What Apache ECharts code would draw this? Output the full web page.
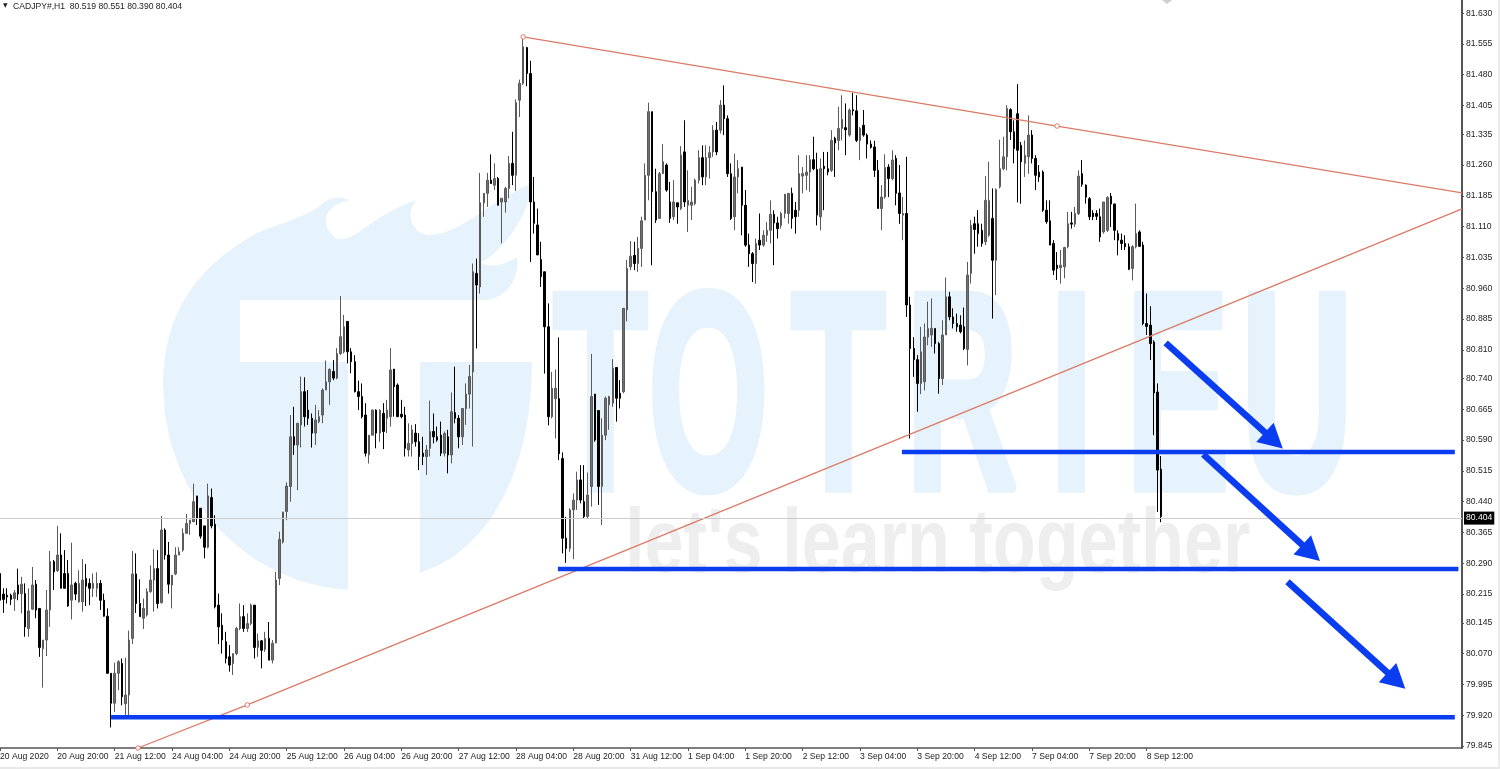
<!DOCTYPE html>
<html><head><meta charset="utf-8">
<script src="https://cdn.jsdelivr.net/npm/echarts@6/dist/echarts.min.js"></script>
<style>html,body{margin:0;padding:0;background:#fff}#c{width:1500px;height:769px}</style>
</head><body><div id="c"></div>
<script>
// Each bar: open, close, low, high
const barsAug20 = [
[80.265,80.200,80.180,80.322],[80.215,80.202,80.169,80.229],[80.212,80.208,80.192,80.229],[80.212,80.202,80.188,80.216],[80.204,80.218,80.174,80.225],[80.237,80.215,80.200,80.277],[80.216,80.239,80.168,80.257],[80.216,80.135,80.111,80.241],[80.131,80.174,80.111,80.229],[80.178,80.237,80.176,80.281],
[80.239,80.176,80.156,80.249],[80.180,80.085,80.062,80.180],[80.082,80.103,79.987,80.103],[80.103,80.176,80.064,80.225],[80.176,80.294,80.135,80.320],[80.294,80.269,80.225,80.298],[80.272,80.310,80.269,80.381],[80.310,80.229,80.229,80.363],[80.265,80.229,80.229,80.322],[80.265,80.186,80.184,80.298],
[80.200,80.237,80.153,80.340],[80.241,80.215,80.200,80.245],[80.196,80.241,80.194,80.273],[80.196,80.249,80.172,80.300],[80.253,80.234,80.186,80.288],[80.241,80.229,80.188,80.253],[80.229,80.241,80.208,80.265],[80.229,80.241,80.208,80.268],[80.241,80.200,80.176,80.249],[80.200,80.161,80.160,80.216]];
const barsAug21 = [
[80.161,80.022,80.022,80.180],[80.022,79.949,79.890,80.022],[79.949,80.022,79.928,80.048],[80.022,80.050,79.981,80.054],[80.046,79.965,79.944,80.058],[79.948,79.969,79.920,80.060],[79.969,80.103,79.920,80.126],[80.107,80.264,80.093,80.320],[80.264,80.192,80.169,80.314],[80.192,80.160,80.160,80.251],
[80.156,80.180,80.130,80.204],[80.164,80.221,80.160,80.229],[80.221,80.249,80.218,80.285],[80.249,80.277,80.172,80.324],[80.277,80.192,80.180,80.322],[80.194,80.371,80.192,80.405],[80.371,80.310,80.299,80.375],[80.310,80.239,80.216,80.342],[80.237,80.261,80.180,80.261],[80.264,80.310,80.261,80.329],
[80.310,80.318,80.310,80.329],[80.322,80.363,80.318,80.375],[80.363,80.387,80.363,80.410],[80.387,80.395,80.359,80.395],[80.391,80.440,80.391,80.484],[80.454,80.399,80.383,80.454],[80.424,80.356,80.350,80.424],[80.381,80.329,80.302,80.381],[80.329,80.454,80.326,80.484],[80.450,80.381,80.375,80.472]];
const barsAug24 = [
[80.385,80.184,80.180,80.407],[80.188,80.135,80.093,80.216],[80.139,80.103,80.070,80.168],[80.099,80.058,80.046,80.123],[80.062,80.042,80.026,80.091],[80.046,80.070,80.018,80.070],[80.070,80.131,80.066,80.135],[80.131,80.160,80.127,80.192],[80.160,80.131,80.123,80.188],[80.131,80.143,80.123,80.168],
[80.143,80.188,80.139,80.192],[80.188,80.085,80.058,80.188],[80.085,80.101,80.062,80.119],[80.101,80.078,80.034,80.103],[80.080,80.107,80.074,80.123],[80.107,80.054,80.054,80.147],[80.054,80.095,80.046,80.103],[80.096,80.249,80.095,80.269],[80.253,80.348,80.237,80.367],[80.342,80.415,80.338,80.415],
[80.416,80.478,80.395,80.487],[80.477,80.598,80.440,80.651],[80.598,80.578,80.554,80.671],[80.578,80.631,80.468,80.631],[80.627,80.708,80.572,80.745],[80.708,80.647,80.623,80.743],[80.663,80.643,80.627,80.712],[80.643,80.607,80.572,80.655],[80.607,80.639,80.578,80.676],[80.635,80.647,80.631,80.663]];
const barsAug25 = [
[80.651,80.712,80.631,80.716],[80.712,80.732,80.712,80.784],[80.732,80.762,80.676,80.765],[80.757,80.741,80.736,80.785],[80.741,80.801,80.738,80.814],[80.801,80.842,80.797,80.941],[80.805,80.866,80.801,80.895],[80.879,80.805,80.777,80.879],[80.805,80.781,80.753,80.814],[80.781,80.708,80.706,80.797],
[80.708,80.696,80.663,80.735],[80.696,80.647,80.643,80.728],[80.651,80.558,80.550,80.680],[80.554,80.602,80.533,80.602],[80.602,80.663,80.602,80.665],[80.663,80.607,80.570,80.665],[80.607,80.663,80.586,80.665],[80.655,80.611,80.568,80.680],[80.643,80.663,80.607,80.688],[80.647,80.761,80.623,80.814],
[80.763,80.720,80.647,80.763],[80.724,80.647,80.647,80.728],[80.653,80.647,80.643,80.688],[80.651,80.570,80.550,80.671],[80.566,80.582,80.550,80.631],[80.582,80.615,80.550,80.627],[80.607,80.586,80.574,80.629],[80.586,80.550,80.517,80.607],[80.558,80.550,80.529,80.598],[80.550,80.566,80.505,80.578],
[80.570,80.611,80.550,80.686],[80.611,80.598,80.582,80.655],[80.598,80.590,80.586,80.623],[80.602,80.558,80.551,80.635],[80.558,80.606,80.550,80.611],[80.598,80.554,80.509,80.615],[80.554,80.659,80.533,80.706],[80.657,80.643,80.631,80.769],[80.643,80.598,80.570,80.651],[80.598,80.667,80.578,80.667],
[80.667,80.702,80.627,80.728],[80.702,80.745,80.667,80.773]];
const barsAug27 = [
[80.756,81.000,80.574,81.020],[80.996,80.968,80.813,81.032],[80.963,81.168,80.947,81.241],[81.168,81.191,81.134,81.191],[81.191,81.223,81.158,81.241],[81.223,81.215,81.215,81.286],[81.211,81.227,81.199,81.264],[81.227,81.162,81.162,81.231],[81.170,81.179,81.069,81.179],[81.170,81.203,81.144,81.207],
[81.203,81.264,81.179,81.282],[81.264,81.235,81.211,81.341],[81.235,81.412,81.197,81.420],[81.418,81.459,81.377,81.468],[81.459,81.548,81.455,81.568],[81.546,81.483,81.452,81.548],[81.483,81.170,81.024,81.514],[81.170,81.118,81.093,81.231],[81.114,81.041,81.041,81.154],[81.030,80.988,80.963,81.073],
[81.000,80.866,80.752,81.000],[80.866,80.647,80.626,80.923],[80.647,80.716,80.643,80.756],[80.691,80.716,80.594,80.762],[80.691,80.557,80.541,80.840],[80.545,80.351,80.314,80.560],[80.351,80.326,80.291,80.403],[80.326,80.420,80.318,80.424],[80.420,80.444,80.300,80.460],[80.444,80.493,80.420,80.513],
[80.493,80.444,80.436,80.529],[80.440,80.404,80.399,80.529],[80.404,80.456,80.399,80.511],[80.477,80.696,80.428,80.800],[80.702,80.590,80.586,80.702],[80.662,80.477,80.432,80.662],[80.477,80.602,80.383,80.643],[80.602,80.692,80.590,80.696],[80.676,80.696,80.615,80.698],[80.680,80.765,80.671,80.787],
[80.767,80.692,80.635,80.767],[80.704,80.692,80.667,80.736],[80.708,80.911,80.704,80.911],[80.907,81.008,80.879,81.029]];
const barsAug31 = [
[81.012,81.038,81.004,81.075],[81.040,81.020,81.004,81.073],[81.020,81.057,81.000,81.085],[81.057,81.124,81.012,81.134],[81.126,81.235,81.126,81.264],[81.235,81.390,81.174,81.412],[81.390,81.195,81.016,81.390],[81.195,81.126,81.119,81.251],[81.130,81.239,81.130,81.243],[81.239,81.268,81.239,81.311],
[81.260,81.199,81.195,81.264],[81.170,81.130,81.119,81.219],[81.134,81.170,81.126,81.223],[81.168,81.158,81.117,81.168],[81.154,81.284,81.150,81.306],[81.292,81.170,81.158,81.369],[81.162,81.174,81.097,81.247],[81.162,81.170,81.126,81.207],[81.166,81.223,81.162,81.227],[81.223,81.278,81.215,81.296],
[81.278,81.231,81.211,81.308],[81.231,81.278,81.211,81.308],[81.278,81.290,81.227,81.306],[81.292,81.345,81.280,81.357],[81.345,81.292,81.284,81.365],[81.345,81.406,81.337,81.418],[81.406,81.373,81.333,81.454],[81.373,81.239,81.231,81.381],[81.239,81.130,81.126,81.264],[81.134,81.231,81.101,81.288]];
const barsSep1 = [
[81.231,81.251,81.191,81.272],[81.255,81.162,81.089,81.255],[81.162,81.065,81.061,81.199],[81.065,81.044,81.012,81.093],[81.044,81.020,80.975,81.048],[81.020,81.069,80.971,81.081],[81.077,81.065,81.053,81.142],[81.065,81.089,81.061,81.101],[81.089,81.101,81.073,81.121],[81.101,81.140,81.069,81.174],
[81.140,81.119,81.016,81.150],[81.119,81.105,81.081,81.134],[81.113,81.142,81.105,81.146],[81.142,81.189,81.130,81.189],[81.142,81.191,81.117,81.192],[81.191,81.130,81.105,81.205],[81.150,81.134,81.093,81.170],[81.150,81.239,81.134,81.284],[81.233,81.239,81.191,81.255],[81.235,81.243,81.199,81.284],
[81.243,81.273,81.195,81.284],[81.273,81.251,81.247,81.329],[81.249,81.138,81.113,81.290],[81.134,81.251,81.101,81.276],[81.257,81.251,81.150,81.292],[81.251,81.243,81.235,81.292],[81.247,81.320,81.243,81.345],[81.325,81.314,81.231,81.329],[81.320,81.349,81.296,81.402],[81.349,81.371,81.320,81.430]];
const barsSep2 = [
[81.351,81.346,81.284,81.410],[81.333,81.394,81.329,81.398],[81.395,81.392,81.381,81.436],[81.392,81.320,81.316,81.430],[81.320,81.349,81.272,81.353],[81.357,81.333,81.329,81.394],[81.333,81.311,81.276,81.337],[81.311,81.303,81.300,81.320],[81.304,81.247,81.231,81.319],[81.247,81.154,81.154,81.272],
[81.154,81.182,81.101,81.211],[81.182,81.254,81.178,81.286],[81.255,81.227,81.182,81.262],[81.227,81.272,81.223,81.296],[81.276,81.191,81.162,81.284],[81.192,81.142,81.117,81.260],[81.138,81.142,81.077,81.182],[81.142,80.919,80.890,81.280],[80.919,80.813,80.594,80.939],[80.813,80.786,80.744,80.841],
[80.786,80.728,80.659,80.797],[80.728,80.805,80.702,80.866],[80.732,80.841,80.711,80.874],[80.841,80.862,80.821,80.927],[80.846,80.862,80.817,80.935],[80.862,80.825,80.801,80.862],[80.825,80.740,80.703,80.829],[80.740,80.846,80.724,80.882],[80.846,80.939,80.846,80.986],[80.939,80.890,80.882,80.951]];
const barsSep4 = [
[80.890,80.874,80.862,80.911],[80.874,80.866,80.854,80.898],[80.870,80.854,80.850,80.894],[80.866,80.813,80.809,80.913],[80.811,80.992,80.772,81.024],[80.996,81.113,80.971,81.126],[81.117,81.103,81.044,81.134],[81.117,81.093,81.061,81.150],[81.101,81.069,81.061,81.117],[81.073,81.174,81.065,81.233],
[81.089,81.174,81.085,81.268],[81.130,81.028,80.886,81.203],[81.028,81.200,80.943,81.203],[81.207,81.251,81.203,81.322],[81.251,81.280,81.247,81.329],[81.280,81.398,81.247,81.406],[81.395,81.341,81.321,81.398],[81.341,81.300,81.264,81.369],[81.385,81.296,81.169,81.457],[81.308,81.268,81.166,81.316],
[81.264,81.284,81.231,81.320],[81.280,81.333,81.239,81.381],[81.333,81.276,81.264,81.345],[81.276,81.235,81.199,81.284],[81.243,81.231,81.219,81.260],[81.243,81.150,81.146,81.247],[81.150,81.122,81.117,81.174],[81.124,81.065,81.065,81.174],[81.069,81.004,80.992,81.077],[81.016,81.008,80.980,81.048]];
const barsSep7 = [
[81.010,81.016,80.971,81.053],[81.012,81.059,80.984,81.061],[81.061,81.117,81.057,81.146],[81.119,81.116,81.105,81.146],[81.116,81.142,81.109,81.158],[81.142,81.233,81.138,81.247],[81.239,81.213,81.207,81.272],[81.211,81.182,81.166,81.213],[81.178,81.134,81.126,81.182],[81.143,81.134,81.126,81.150],
[81.142,81.135,81.126,81.150],[81.134,81.085,81.073,81.154],[81.097,81.170,81.093,81.170],[81.101,81.181,81.097,81.184],[81.184,81.165,81.109,81.192],[81.165,81.101,81.077,81.166],[81.093,81.077,81.040,81.101],[81.077,81.069,81.053,81.093],[81.069,81.061,81.053,81.089],[81.061,81.006,81.004,81.069],
[81.008,81.061,80.979,81.065],[81.061,81.093,81.057,81.166],[81.097,81.062,81.061,81.101],[81.065,80.874,80.870,81.073],[80.874,80.867,80.846,80.947],[80.870,80.825,80.785,80.916],[80.829,80.705,80.602,80.833],[80.707,80.517,80.415,80.728],[80.519,80.404,80.390,80.551]];

const timeTickLabels = ['20 Aug 2020','20 Aug 20:00','21 Aug 12:00','24 Aug 04:00','24 Aug 20:00','25 Aug 12:00','26 Aug 04:00','26 Aug 20:00','27 Aug 12:00','28 Aug 04:00','28 Aug 20:00','31 Aug 12:00','1 Sep 04:00','1 Sep 20:00','2 Sep 12:00','3 Sep 04:00','3 Sep 20:00','4 Sep 12:00','7 Sep 04:00','7 Sep 20:00','8 Sep 12:00'];
const priceTicks = [81.630,81.555,81.480,81.405,81.335,81.260,81.185,81.110,81.035,80.960,80.885,80.810,80.740,80.665,80.590,80.515,80.440,80.365,80.290,80.215,80.145,80.070,79.995,79.920,79.845];
const lastPrice = 80.404;
const headerText = 'CADJPY#,H1  80.519 80.551 80.390 80.404';

// Trend lines: [bar position, price]
const upperTrend = [[146,81.572],[295,81.355],[408,81.192]];
const lowerTrend = [[38.5,79.840],[69,79.945],[408,81.153]];
// Horizontal levels: [start bar, end bar, price]
const levelHigh = [251.7,406,80.561];
const levelMid = [155.7,407,80.276];
const levelLow = [31,406,79.915];
// Forecast arrows: [start bar, start price, end bar, end price]
const arrowOne = [325.3,80.827,355.5,80.589];
const arrowTwo = [335.8,80.555,365.9,80.315];
const arrowThree = [359.3,80.245,389.7,80.004];

const bars = [].concat(barsAug20,barsAug21,barsAug24,barsAug25,barsAug27,barsAug31,barsSep1,barsSep2,barsSep4,barsSep7);
const BAR_SLOTS = 409, TICK_EVERY = 16;
const categories = [];
for (let i=0;i<BAR_SLOTS;i++){ categories.push(i%TICK_EVERY===0 && timeTickLabels[i/TICK_EVERY] ? timeTickLabels[i/TICK_EVERY] : ''); }

const PALE='#e6f2fc', GREYW='#eeeeee', BLUE='#0a3cf0', RED='#dc7a66', AXIS='#555555';
const FONT="'Liberation Sans',Arial,sans-serif";
const wordmark=[['T',553],['O',648],['T',791],['R',906],['I',1050],['E',1126],['U',1241]];

// Watermark outline helper: flattens cubic curve runs into polygon points
function outline(start, segs){
  const pts=[start]; let p=start;
  segs.forEach(s=>{
    if(s.length===2){pts.push(s);p=s;return;}
    for(let k=1;k<=12;k++){const t=k/12,u=1-t;
      pts.push([u*u*u*p[0]+3*u*u*t*s[0]+3*u*t*t*s[2]+t*t*t*s[4],u*u*u*p[1]+3*u*u*t*s[1]+3*u*t*t*s[3]+t*t*t*s[5]]);}
    p=[s[4],s[5]];
  });
  return pts;
}
const logoMain=outline([163,385],[[163,320,190,270,257,233],[285,222,310,215,323,203],[333,195,342,198,350,200],[325,205,318,222,335,238],[355,245,370,215,417,200],[405,210,410,235,430,235],[460,235,490,200,533,183],[528,215,505,250,480,263],[490,268,505,265,517,257],[520,280,505,297,488,300],[240,300],[240,362],[348,362],[348,590],[250,585,163,500,163,385]]);
const logoRight=outline([420,362],[[532,362],[532,470,490,550,420,573]]);

const graphics=[
 {type:'polygon',z:0,silent:true,shape:{points:logoMain},style:{fill:PALE}},
 {type:'polygon',z:0,silent:true,shape:{points:logoRight},style:{fill:PALE}},
 {type:'text',z:0,silent:true,x:625,y:547,scaleX:0.78,style:{text:"let's learn together",font:"bold 90px 'Liberation Sans'",fill:GREYW,verticalAlign:'middle'}},
 {type:'text',z:10,silent:true,x:3,y:2.5,style:{text:'▼',font:"6px 'DejaVu Sans'",fill:'#222'}},
 {type:'text',z:10,silent:true,x:13,y:2,style:{text:headerText,font:"8.6px "+FONT,fill:'#222'}},
 {type:'polygon',z:0,silent:true,shape:{points:[[1162,0],[1172,0],[1167,4]]},style:{fill:'#cfcfcf'}},
 {type:'rect',z:0,silent:true,shape:{x:0,y:767,width:1500,height:2},style:{fill:'#e8e8e8'}},
 {type:'rect',z:0,silent:true,shape:{x:1498,y:0,width:2,height:769},style:{fill:'#ececec'}}
];
wordmark.forEach(([ch,x])=>graphics.push({type:'text',z:0,silent:true,x:x,y:411,scaleX:0.55,style:{text:ch,font:"bold 282px 'Liberation Sans'",fill:PALE,stroke:PALE,lineWidth:8,verticalAlign:'middle'}}));

const hLine=(lv)=>({type:'line',xAxisIndex:1,yAxisIndex:0,z:4,silent:true,showSymbol:false,data:[[lv[0],lv[2]],[lv[1],lv[2]]],lineStyle:{color:BLUE,width:4.5,cap:'butt'}});
const trend=(d)=>({type:'line',xAxisIndex:1,yAxisIndex:0,z:3,silent:true,data:d,symbol:'circle',symbolSize:(v)=>v[0]>=408?0:4.5,showSymbol:true,showAllSymbol:true,itemStyle:{color:'#fff',borderColor:RED,borderWidth:1},lineStyle:{color:RED,width:1.3}});

const chart=echarts.init(document.getElementById('c'),null,{renderer:'canvas'});
chart.setOption({
 animation:false,backgroundColor:'#fff',graphic:graphics,
 grid:{left:0,right:38,top:0,height:748,containLabel:false,outerBoundsMode:'none'},
 xAxis:[
  {type:'category',data:categories,boundaryGap:false,
   axisLine:{onZero:false,lineStyle:{color:AXIS,width:1.5}},
   axisTick:{show:true,length:3,interval:(i,v)=>v!=='',lineStyle:{color:AXIS}},
   axisLabel:{interval:(i,v)=>v!=='',align:'left',margin:4,fontFamily:FONT,fontSize:8.6,color:'#222'},
   splitLine:{show:false}},
  {type:'value',min:0,max:408,show:false,splitLine:{show:false}}
 ],
 yAxis:[{type:'value',position:'right',min:79.840,max:81.662,scale:true,
   axisLine:{show:true,onZero:false,lineStyle:{color:AXIS,width:2}},
   axisTick:{show:true,length:2,customValues:priceTicks,lineStyle:{color:AXIS}},
   axisLabel:{customValues:priceTicks,margin:4,fontFamily:FONT,fontSize:8.6,color:'#222',formatter:(v)=>v.toFixed(3)},
   splitLine:{show:false}}],
 series:[
  {type:'line',xAxisIndex:1,yAxisIndex:0,z:1,silent:true,data:[],
   markLine:{silent:true,symbol:'none',animation:false,lineStyle:{color:'#cccccc',width:1,type:'solid'},
    label:{position:'end',distance:2,formatter:lastPrice.toFixed(3),color:'#fff',backgroundColor:'#000',padding:[2,2,2,2],fontFamily:FONT,fontSize:8.6},
    data:[{yAxis:lastPrice}]}},
  {type:'candlestick',xAxisIndex:0,yAxisIndex:0,z:2,data:bars,barWidth:2,silent:true,
   itemStyle:{color:'#707070',color0:'#000',borderColor:'#5a5a5a',borderColor0:'#000',borderWidth:1}},
  trend(upperTrend),trend(lowerTrend),
  hLine(levelHigh),hLine(levelMid),hLine(levelLow),
  {type:'line',xAxisIndex:1,yAxisIndex:0,z:5,silent:true,data:[],
   markLine:{silent:true,animation:false,symbol:['none','triangle'],symbolSize:[26,24],lineStyle:{color:BLUE,width:6.5,type:'solid',cap:'butt'},label:{show:false},
    data:[arrowOne,arrowTwo,arrowThree].map(a=>[{coord:[a[0],a[1]]},{coord:[a[2],a[3]]}])}}
 ]
});
</script></body></html>
